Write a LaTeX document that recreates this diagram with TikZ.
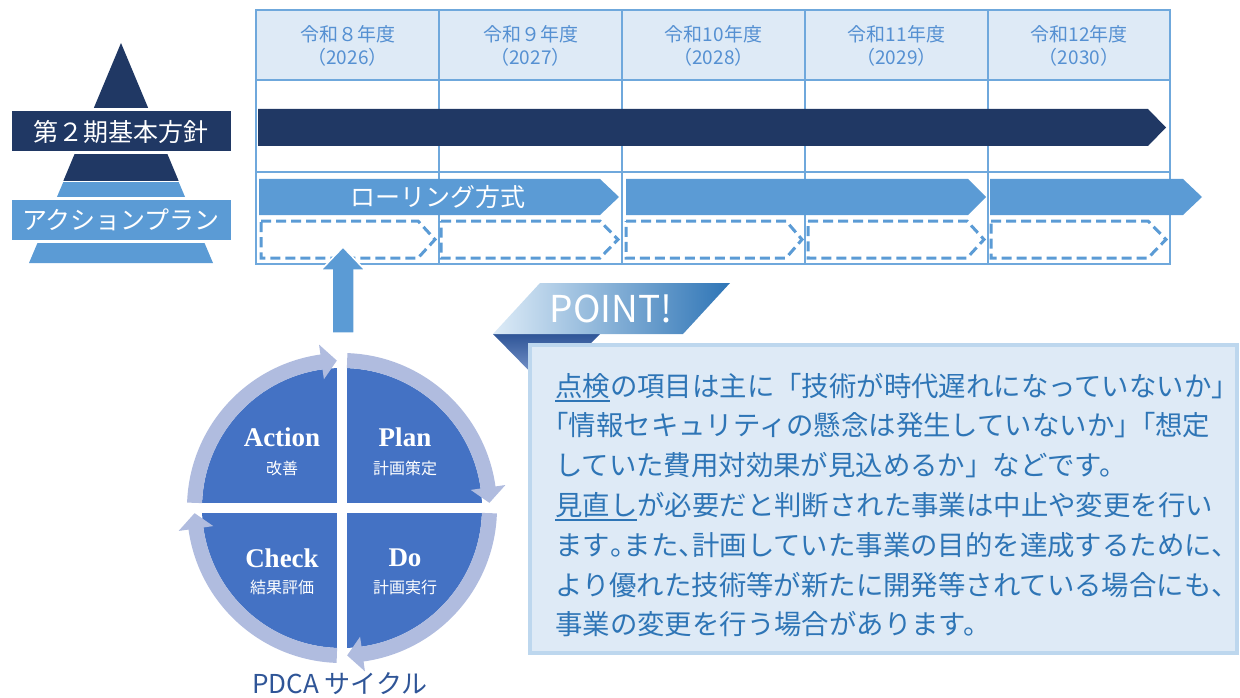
\documentclass[tikz,border=0pt]{standalone}
\usepackage{fontspec}
\usetikzlibrary{calc}
\newfontfamily\jp{Noto Sans CJK JP}
\newfontfamily\serifx{Liberation Serif}
\definecolor{navy}{HTML}{203864}
\definecolor{mid}{HTML}{5B9BD5}
\definecolor{gridc}{HTML}{6FA8DC}
\definecolor{hdrfill}{HTML}{DEEAF6}
\definecolor{hdrtxt}{HTML}{5590D2}
\definecolor{quad}{HTML}{4472C4}
\definecolor{ringc}{HTML}{B0BCDF}
\definecolor{pdcatxt}{HTML}{2F5597}
\definecolor{boxfill}{HTML}{DEEAF6}
\definecolor{boxline}{HTML}{BDD7EE}
\definecolor{bodytxt}{HTML}{2E75B6}
\definecolor{ptl}{HTML}{DDEBF7}
\definecolor{ptr}{HTML}{2E75B6}
\definecolor{foldt}{HTML}{2F5597}
\definecolor{foldb}{HTML}{8FAADC}
\newcommand\hw[1]{\makebox[0.5em][l]{#1}}
\newcommand\hwr[1]{\makebox[0.5em][r]{#1}}
\newcommand\ulx[1]{\setbox0\hbox{#1}\rlap{\rule[-6pt]{\wd0}{2pt}}\box0}
\newcommand\ringseg[3]{%
 \fill[ringc] ($(C)+(#1:140)$) arc[start angle=#1, end angle=#2, radius=140]
   -- ($(C)+(#2:130)$) -- ($(C)+(#3:147.5)$) -- ($(C)+(#2:165)$) -- ($(C)+(#2:155)$)
   arc[start angle=#2, end angle=#1, radius=155] -- cycle;}
\tikzset{
 hdr/.style={font=\jp\fontsize{19}{23}\selectfont, text=hdrtxt, align=center, inner sep=0pt},
 bandtxt/.style={font=\jp\fontsize{25}{30}\selectfont, text=white, inner sep=0pt},
 rollarrow/.style={fill=mid},
 dasharrow/.style={draw=mid, line width=3pt, dash pattern=on 10pt off 5pt, line join=miter},
 gridline/.style={draw=gridc, line width=1.3pt},
 qtitle/.style={font=\serifx\bfseries\fontsize{27}{30}\selectfont, text=white, inner sep=0pt},
 qsub/.style={font=\jp\fontsize{16}{18}\selectfont, text=white, inner sep=0pt},
 bodyline/.style={font=\jp\fontsize{27.4}{33}\selectfont, text=bodytxt, anchor=base west, inner sep=0pt},
}
\begin{document}
\begin{tikzpicture}[x=1pt,y=-1pt]
\useasboundingbox (0,0) rectangle (1240,698);

% ---------- pyramid ----------
\fill[navy] (121,43) -- (178.7,181) -- (63.3,181) -- cycle;
\fill[mid] (63.3,182) -- (178.7,182) -- (213,263) -- (29,263) -- cycle;
\draw[white, line width=1.2pt] (50,181.5) -- (190,181.5);
\filldraw[fill=navy, draw=white, line width=3pt] (10,110) rectangle (232,153);
\filldraw[fill=mid, draw=white, line width=3pt] (10,198) rectangle (232,241);
\node[bandtxt] (b1) at (121,131.5) {第２期基本方針};
\node[bandtxt] (b2) at (121,219.5) {アクションプラン};

% ---------- table ----------
\fill[hdrfill] (256,10) rectangle (1170,80);
\draw[gridline] (256,10) rectangle (1170,264);
\draw[gridline] (256,80) -- (1170,80);
\draw[gridline] (256,172) -- (1170,172);
\foreach \x in {439,622,805,988} \draw[gridline] (\x,10) -- (\x,264);
\node[hdr] (h1) at (347.5,46) {令和８年度\\（2026）};
\node[hdr] (h2) at (530.5,46) {令和９年度\\（2027）};
\node[hdr] (h3) at (713.5,46) {令和10年度\\（2028）};
\node[hdr] (h4) at (896.5,46) {令和11年度\\（2029）};
\node[hdr] (h5) at (1079,46) {令和12年度\\（2030）};

% navy arrow
\fill[navy] (258,109) -- (1148,109) -- (1166,127.5) -- (1148,146) -- (258,146) -- cycle;

% rolling arrows
\fill[rollarrow] (259,179) -- (600,179) -- (619,197) -- (600,215) -- (259,215) -- cycle;
\fill[rollarrow] (626,179) -- (968,179) -- (986,197) -- (968,215) -- (626,215) -- cycle;
\fill[rollarrow] (990,179) -- (1183,179) -- (1202,197) -- (1183,215) -- (990,215) -- cycle;
\node[bandtxt] (rt) at (438,197) {ローリング方式};

% dashed arrows
\draw[dasharrow] (261,221) -- (418,221) -- (435,239.5) -- (418,258) -- (261,258) -- cycle;
\draw[dasharrow] (441,221) -- (600,221) -- (618,239.5) -- (600,258) -- (441,258) -- cycle;
\draw[dasharrow] (626,221) -- (786,221) -- (802,239.5) -- (786,258) -- (626,258) -- cycle;
\draw[dasharrow] (808,221) -- (967,221) -- (984,239.5) -- (967,258) -- (808,258) -- cycle;
\draw[dasharrow] (991,221) -- (1148,221) -- (1166,239.5) -- (1148,258) -- (991,258) -- cycle;

% up arrow
\filldraw[fill=mid, draw=white, line width=1.5pt] (332,333) -- (332,270) -- (321,270) -- (343,247) -- (365,270) -- (354,270) -- (354,333) -- cycle;

% ---------- PDCA ----------
\coordinate (C) at (342,508);
\fill[quad] (C) circle (140);
\fill[white] (337,366) rectangle (347,650);
\fill[white] (200,503) rectangle (484,513);
\ringseg{-88}{-8}{-2}
\ringseg{2}{82}{88}
\ringseg{92}{172}{178}
\ringseg{182}{262}{268}
\node[qtitle] (act) at (282,437) {Action};
\node[qsub] (actj) at (282,468) {改善};
\node[qtitle] (pln) at (405,437) {Plan};
\node[qsub] (plnj) at (405,468) {計画策定};
\node[qtitle] (chk) at (282,558) {Check};
\node[qsub] (chkj) at (282,587) {結果評価};
\node[qtitle] (do) at (405,558) {Do};
\node[qsub] (doj) at (405,587) {計画実行};
\node[font=\jp\fontsize{26}{30}\selectfont, text=pdcatxt, inner sep=0pt] (pdca) at (340,684) {PDCA サイクル};

% ---------- POINT ----------
\shade[top color=foldt, bottom color=foldb] (493,334) -- (600,334) -- (546,388) -- cycle;
\shade[left color=ptl, right color=ptr] (540,283) -- (730,283) -- (683,334) -- (493,334) -- cycle;
\node[font=\jp\fontsize{37}{40}\selectfont, text=white, inner sep=0pt] (pt) at (611,309) {POINT!};

\filldraw[fill=boxfill, draw=boxline, line width=4pt] (530,345) rectangle (1237,653);
\node[bodyline] (l1) at (555,396) {\ulx{点検}の項目は主に「技術が時代遅れになっていないか」};
\node[bodyline] (l2) at (555,435.8) {\hwr{「}情報セキュリティの懸念は発生していないか\hw{」}「想定};
\node[bodyline] (l3) at (555,475.6) {していた費用対効果が見込めるか」などです。};
\node[bodyline] (l4) at (555,515.4) {\ulx{見直し}が必要だと判断された事業は中止や変更を行い};
\node[bodyline] (l5) at (555,555.2) {ます\hw{。}また\hw{、}計画していた事業の目的を達成するために\hw{、}};
\node[bodyline] (l6) at (555,595) {より優れた技術等が新たに開発等されている場合にも\hw{、}};
\node[bodyline] (l7) at (555,634.8) {事業の変更を行う場合があります。};
\end{tikzpicture}
\end{document}
